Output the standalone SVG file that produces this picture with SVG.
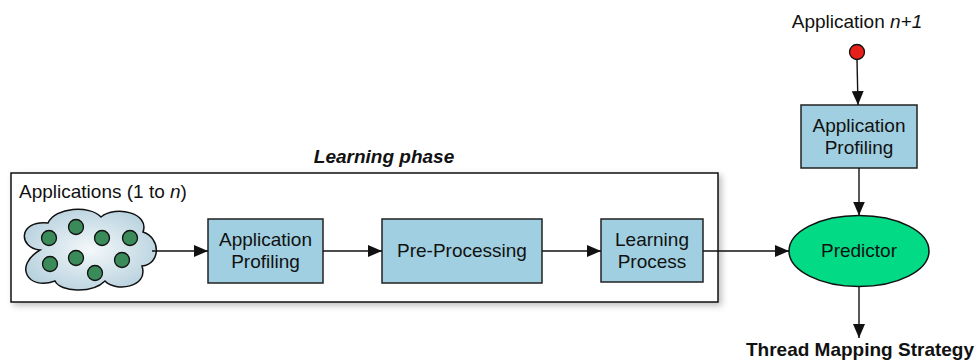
<svg xmlns="http://www.w3.org/2000/svg" width="978" height="360" viewBox="0 0 978 360">
<defs>
<style>
text{font-family:"Liberation Sans",Arial,sans-serif;font-size:19px;fill:#111}
.box{fill:#9fcfe0;stroke:#222;stroke-width:1.5}
.dot{fill:#3a8a5a;stroke:#111;stroke-width:1.3}
.conn{stroke:#111;stroke-width:1.4;fill:none;marker-end:url(#ah)}
.mid{text-anchor:middle}
</style>
<marker id="ah" markerWidth="14" markerHeight="12" viewBox="0 0 14 12" refX="14" refY="6" orient="auto" markerUnits="userSpaceOnUse">
<path d="M0,0 L14,6 L0,12 Z" fill="#111"/>
</marker>
<radialGradient id="cg" cx="0.5" cy="0.5" r="0.6">
<stop offset="0" stop-color="#f4f8fa"/>
<stop offset="1" stop-color="#b3cfdc"/>
</radialGradient>
<filter id="sh" x="-5%" y="-10%" width="110%" height="125%">
<feDropShadow dx="3" dy="3" stdDeviation="3" flood-color="#000" flood-opacity="0.25"/>
</filter>
</defs>

<g id="learning-phase">
<rect x="11" y="173" width="707" height="129" fill="#fff" stroke="#111" stroke-width="1.5" filter="url(#sh)"/>
<text x="384" y="163" class="mid" font-weight="bold" font-style="italic">Learning phase</text>
<text x="19" y="198">Applications (1 to <tspan font-style="italic">n</tspan>)</text>
</g>

<g id="applications-cloud">
<path d="M40,250 C18,248 18,220 48,223 C55,207 90,205 101,217 C116,205 150,213 143,232 C161,238 161,264 142,266 C149,288 115,292 105,281 C92,294 60,292 55,281 C28,291 13,266 40,250 Z" fill="url(#cg)" stroke="#111" stroke-width="1.5"/>
<circle class="dot" cx="49" cy="238" r="7.5"/>
<circle class="dot" cx="76" cy="227" r="7.5"/>
<circle class="dot" cx="102" cy="238" r="7.5"/>
<circle class="dot" cx="130" cy="238" r="7.5"/>
<circle class="dot" cx="50" cy="264" r="7.5"/>
<circle class="dot" cx="76" cy="258" r="7.5"/>
<circle class="dot" cx="122" cy="260" r="7.5"/>
<circle class="dot" cx="95" cy="273" r="7.5"/>
</g>

<g id="app-profiling-1">
<rect class="box" x="208" y="219" width="115" height="64"/>
<text x="265.5" y="246" class="mid">Application</text>
<text x="265.5" y="268" class="mid">Profiling</text>
</g>

<g id="pre-processing">
<rect class="box" x="382" y="219" width="160" height="64"/>
<text x="462" y="257" class="mid">Pre-Processing</text>
</g>

<g id="learning-process">
<rect class="box" x="601" y="219" width="102" height="63"/>
<text x="652" y="246" class="mid">Learning</text>
<text x="652" y="268" class="mid">Process</text>
</g>

<g id="application-n1">
<text x="857" y="28" class="mid">Application <tspan font-style="italic">n+1</tspan></text>
<circle cx="857" cy="52" r="7.5" fill="#e8201c" stroke="#111" stroke-width="1.3"/>
</g>

<g id="app-profiling-2">
<rect class="box" x="801" y="105" width="116" height="63"/>
<text x="859" y="132" class="mid">Application</text>
<text x="859" y="154" class="mid">Profiling</text>
</g>

<g id="predictor">
<ellipse cx="859" cy="251" rx="70" ry="35.5" fill="#03da86" stroke="#111" stroke-width="1.5"/>
<text x="859" y="257" class="mid">Predictor</text>
</g>

<g id="thread-mapping-strategy">
<text x="860" y="356" class="mid" font-weight="bold">Thread Mapping Strategy</text>
</g>

<g id="connectors">
<line class="conn" x1="152" y1="251" x2="208" y2="251"/>
<line class="conn" x1="323" y1="251" x2="382" y2="251"/>
<line class="conn" x1="542" y1="251" x2="601" y2="251"/>
<line class="conn" x1="703" y1="251" x2="789" y2="251"/>
<line class="conn" x1="857" y1="60" x2="858" y2="105"/>
<line class="conn" x1="859" y1="168" x2="859" y2="215.5"/>
<line class="conn" x1="859" y1="286.5" x2="859" y2="338"/>
</g>
</svg>
